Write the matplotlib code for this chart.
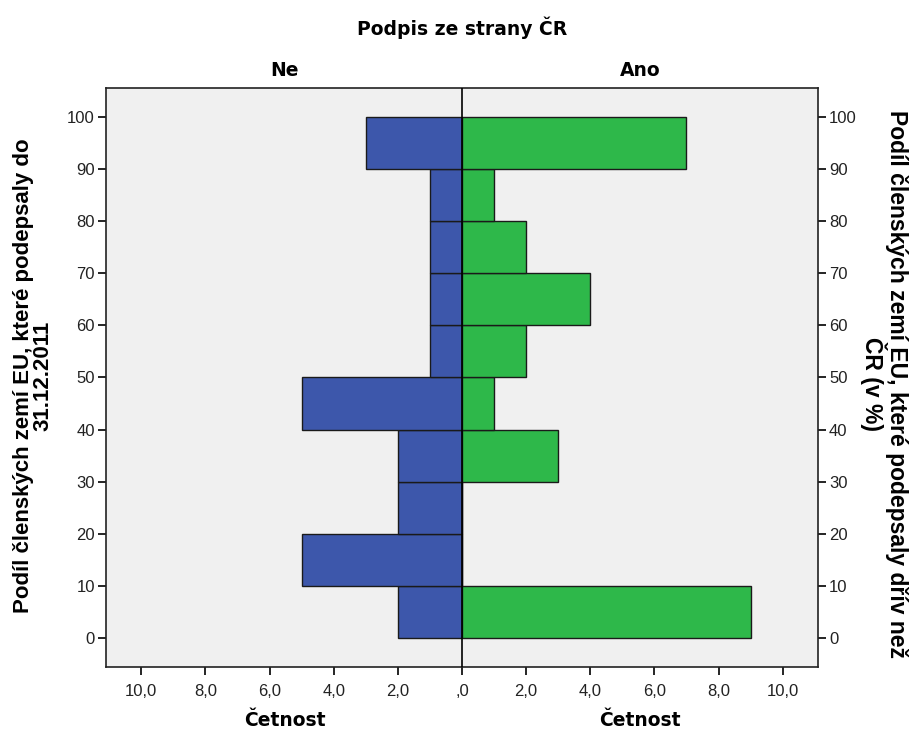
import matplotlib.pyplot as plt
import numpy as np

plt.rcParams['font.family'] = ['Liberation Sans', 'DejaVu Sans']

bin_starts = [0, 10, 20, 30, 40, 50, 60, 70, 80, 90]
ne_counts = [2, 5, 2, 2, 5, 1, 1, 1, 1, 3]
ano_counts = [9, 0, 0, 3, 1, 2, 4, 2, 1, 7]
x_ticks = [-10, -8, -6, -4, -2, 0, 2, 4, 6, 8, 10]
y_ticks = [0, 10, 20, 30, 40, 50, 60, 70, 80, 90, 100]

fig = plt.figure(figsize=(9.16, 7.33), dpi=100)
ax = fig.add_axes([0.1157, 0.090, 0.7773, 0.790])
ax.set_facecolor('#f0f0f0')

ax.barh(bin_starts, [-v for v in ne_counts], height=10, align='edge',
        color='#3d57ab', edgecolor='#1a1a1a', linewidth=1.0, zorder=2)
ax.barh(bin_starts, ano_counts, height=10, align='edge',
        color='#2eb84a', edgecolor='#1a1a1a', linewidth=1.0, zorder=2)
ax.axvline(0, color='black', linewidth=1.2, zorder=3)

ax.set_xlim(-11.1, 11.1)
ax.set_ylim(-5.6, 105.6)

def fmt(v):
    v = abs(v)
    return ',0' if v == 0 else f'{v},0'

ax.set_xticks(x_ticks)
ax.set_xticklabels([fmt(v) for v in x_ticks])
ax.set_yticks(y_ticks)
ax.tick_params(axis='both', direction='out', length=6, width=1.2,
               labelsize=12, colors='black', labelcolor='#222222')
ax.tick_params(axis='y', left=True, right=True, labelleft=True, labelright=True, pad=2)
ax.tick_params(axis='x', pad=6)
for s in ax.spines.values():
    s.set_linewidth(1.2)
    s.set_color('#222222')

head = dict(ha='center', va='center', fontsize=13.5, fontweight='bold',
            family=['DejaVu Sans'])
fig.text(462 / 916, 1 - 28 / 733, 'Podpis ze strany ČR', **head)
fig.text(285 / 916, 1 - 70 / 733, 'Ne', **head)
fig.text(640 / 916, 1 - 70 / 733, 'Ano', **head)
fig.text(285 / 916, 1 - 720 / 733, 'Četnost', **head)
fig.text(640 / 916, 1 - 720 / 733, 'Četnost', **head)

fig.text(33 / 916, 1 - 376 / 733,
         'Podíl členských zemí EU, které podepsaly do\n31.12.2011',
         ha='center', va='center', rotation=90, fontsize=16,
         fontweight='bold', linespacing=0.9)
fig.text(884 / 916, 1 - 384 / 733,
         'Podíl členských zemí EU, které podepsaly dřív než\nČR (v %)',
         ha='center', va='center', rotation=-90, fontsize=16.5,
         fontweight='bold', linespacing=0.9)

fig.savefig('out.png', dpi=100)
